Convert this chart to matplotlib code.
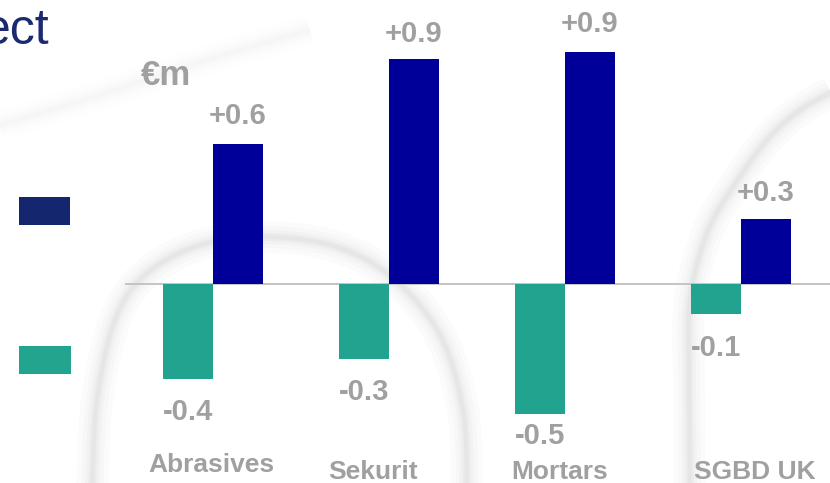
import numpy as np
import matplotlib
matplotlib.use("Agg")
import matplotlib.pyplot as plt
from matplotlib.patches import Rectangle

plt.rcParams['font.family'] = ['Liberation Sans', 'DejaVu Sans']

# ---------------- data ----------------
categories = ["Abrasives", "Sekurit", "Mortars", "SGBD UK"]
positive_values = [0.56, 0.90, 0.93, 0.26]      # navy bars
negative_values = [-0.38, -0.30, -0.52, -0.12]  # teal bars
positive_labels = ["+0.6", "+0.9", "+0.9", "+0.3"]
negative_labels = ["-0.4", "-0.3", "-0.5", "-0.1"]
unit_label = "€m"
title_fragment = "ect"

# ---------------- styling ----------------
NAVY = "#000099"
TEAL = "#22A390"
LEG_NAVY = "#13266E"
LEG_TEAL = "#22A48F"
GREY_TXT = "#A0A0A0"
TITLE_COL = "#1B2A70"

W, H = 830, 483
fig = plt.figure(figsize=(W / 100, H / 100), dpi=100)

# background layer in pixel coordinates
bg = fig.add_axes([0, 0, 1, 1], zorder=0)
bg.set_xlim(0, W)
bg.set_ylim(H, 0)
bg.axis("off")


def catmull(points, n=30):
    p = np.asarray(points, float)
    p = np.vstack([p[0], p, p[-1]])
    out = []
    for i in range(1, len(p) - 2):
        p0, p1, p2, p3 = p[i - 1], p[i], p[i + 1], p[i + 2]
        t = np.linspace(0, 1, n)[:, None]
        seg = 0.5 * ((2 * p1) + (-p0 + p2) * t + (2 * p0 - 5 * p1 + 4 * p2 - p3) * t ** 2
                     + (-p0 + 3 * p1 - 3 * p2 + p3) * t ** 3)
        out.append(seg)
    return np.vstack(out)


def soft_curve(points, strength=1.0):
    c = catmull(points)
    for lw, a in [(32, 0.018), (22, 0.025), (14, 0.032), (8, 0.04), (4, 0.04)]:
        bg.plot(c[:, 0], c[:, 1], color="#606060", lw=lw * 0.72, alpha=a * strength,
                solid_capstyle="butt")

# decorative ring shading
soft_curve([(92, 490), (97, 400), (115, 320), (145, 275), (200, 245), (270, 237),
            (340, 248), (395, 280), (440, 335), (463, 410), (467, 490)])
soft_curve([(690, 490), (689, 380), (690, 300), (707, 233), (733, 187), (767, 140),
            (800, 110), (840, 88)])
soft_curve([(-10, 128), (100, 95), (200, 62), (310, 30)], strength=0.25)

# legend swatches
bg.add_patch(Rectangle((19, 197), 51, 28, color=LEG_NAVY, lw=0))
bg.add_patch(Rectangle((19, 346), 52, 28, color=LEG_TEAL, lw=0))

# title fragment and unit
bg.text(49, 44, title_fragment, fontsize=36, color=TITLE_COL, ha="right", va="baseline")
bg.text(141, 85, unit_label, fontsize=25, color=GREY_TXT, fontweight="bold",
        ha="left", va="baseline")

# ---------------- chart ----------------
PX_PER_UNIT_X = 176.0
PX_PER_UNIT_Y = 250.0
ax_left, base_px = 125, 284
ax = fig.add_axes([ax_left / W, 0, (W - ax_left) / W, 1], zorder=1)
ax.patch.set_alpha(0)
ax.set_xlim(-0.5, -0.5 + (W - ax_left) / PX_PER_UNIT_X)
ax.set_ylim(-(H - base_px) / PX_PER_UNIT_Y, base_px / PX_PER_UNIT_Y)
ax.axis("off")

x = np.arange(len(categories))
bw = 50 / PX_PER_UNIT_X
ax.bar(x + bw / 2, positive_values, width=bw, color=NAVY, zorder=2)
ax.bar(x - bw / 2, negative_values, width=bw, color=TEAL, zorder=2)
ax.axhline(0, color="#C4C4C4", lw=1.4, zorder=1)

pt = 0.72  # points per pixel at 100 dpi
pos_gap = [20, 17, 19, 18]
neg_gap = [41, 41, 30, 42]
for i in range(len(categories)):
    ax.annotate(positive_labels[i], (x[i] + bw / 2, positive_values[i]),
                xytext=(0, pos_gap[i] * pt), textcoords="offset points",
                ha="center", va="baseline", fontsize=21, fontweight="bold",
                color=GREY_TXT, zorder=3)
    ax.annotate(negative_labels[i], (x[i] - bw / 2, negative_values[i]),
                xytext=(0, -neg_gap[i] * pt), textcoords="offset points",
                ha="center", va="baseline", fontsize=21, fontweight="bold",
                color=GREY_TXT, zorder=3)

cat_dx = [-2, -16, -5, 14]
cat_base = [472, 479, 479, 479]
for i, c in enumerate(categories):
    ax.annotate(c, (x[i], 0), xytext=(cat_dx[i] * pt, -(cat_base[i] - base_px) * pt),
                textcoords="offset points", ha="center", va="baseline",
                fontsize=19, fontweight="bold", color=GREY_TXT, zorder=3)

fig.savefig("out.png", dpi=100)
